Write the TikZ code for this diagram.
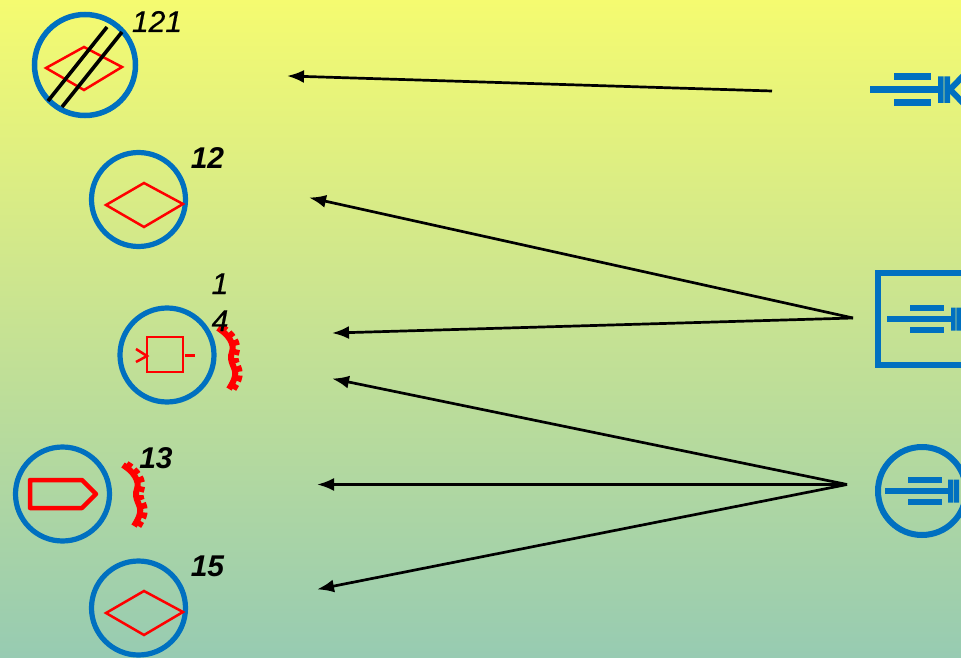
\documentclass[tikz,border=0pt]{standalone}
\usepackage{fontspec}
\setmainfont{Liberation Sans}
\newfontfamily\labfont{Liberation Sans}[ItalicFeatures={FakeBold=0.6}]
\usetikzlibrary{arrows.meta}
\definecolor{sblue}{HTML}{0070C0}
\definecolor{bgtop}{HTML}{F5FB70}
\definecolor{bgmid}{HTML}{D0E78C}
\definecolor{bgbot}{HTML}{97CBB2}
\tikzset{
  ring/.style={draw=sblue,line width=#1,circle,inner sep=0pt,fill=none},
  ring/.default=5.2pt,
  redline/.style={draw=red,line width=2.5pt,line join=miter},
  bluebar/.style={draw=sblue,line width=6.5pt},
  conn/.style={draw=black,line width=2.7pt,shorten >=-2pt,-{Latex[length=17pt,width=13pt]}},
  hatch/.style={draw=black,line width=3.6pt},
  lab/.style={inner sep=0pt,anchor=base,font=\fontsize{30}{30}\selectfont\labfont\itshape},
  labb/.style={inner sep=0pt,anchor=base,font=\fontsize{30}{30}\selectfont\itshape\bfseries},
  gearbody/.style={draw=red,line width=6pt},
  gearteeth/.style={draw=red,line width=9pt,dash pattern=on 5.5pt off 3.5pt}
}
\newcommand{\gearcurve}{(218,328) .. controls (228,334) and (235,344) .. (232,352) .. controls (228,362) and (237,368) .. (235,376) .. controls (234,381) and (232,384) .. (229,389)}
\begin{document}
\begin{tikzpicture}[x=1pt,y=-1pt]
\useasboundingbox (0,0) rectangle (961,658);
\path[top color=bgtop,bottom color=bgmid] (0,0) rectangle (961,260);
\path[top color=bgmid,bottom color=bgbot] (0,259.5) rectangle (961,658);
\begin{scope}
\clip (0,0) rectangle (961,658);
% circles
\node[ring=5.5pt,minimum size=101pt] (c121) at (85,65) {};
\node[ring,minimum size=94pt] (c12) at (138.5,199.5) {};
\node[ring,minimum size=94pt] (c14) at (167,355) {};
\node[ring,minimum size=94pt] (c13) at (62.5,494) {};
\node[ring,minimum size=94pt] (c15) at (138.5,608) {};
% symbol 121
\draw[redline] (46,68) -- (84,47) -- (122,67) -- (84,90) -- cycle;
\draw[hatch] (48,101) -- (107,27);
\draw[hatch] (62,107) -- (122,32);
% symbol 12
\draw[redline] (106,205) -- (144,183) -- (183,204) -- (144,227) -- cycle;
% symbol 14
\draw[redline] (147,337) rectangle (183,372);
\draw[redline] (136,349) -- (147,356) -- (136,362);
\draw[redline] (185,355.5) -- (195,355.5);
% symbol 13
\draw[draw=red,line width=4.5pt,line join=round] (30,480) -- (82,480) -- (96,494) -- (82,508) -- (30,508) -- cycle;
% symbol 15
\draw[redline] (106,613) -- (144,591) -- (183,612) -- (144,635) -- cycle;
% gears
\draw[gearbody] \gearcurve;
\draw[gearteeth,shift={(3,0)}] \gearcurve;
\begin{scope}[shift={(-95,137)}]
\draw[gearbody] \gearcurve;
\draw[gearteeth,shift={(3,0)}] \gearcurve;
\end{scope}
% labels
\node[lab] (t121) at (157,32) {121};
\node[labb] (t12) at (207.5,168) {12};
\node[lab] (t1) at (220,294) {1};
\node[lab] (t4) at (220,331) {4};
\node[labb] (t13) at (156,468) {13};
\node[labb] (t15) at (207.5,576) {15};
% right symbol, top
\draw[bluebar] (870,89.5) -- (940,89.5);
\draw[bluebar] (894,76.5) -- (931,76.5);
\draw[bluebar] (894,102.5) -- (931,102.5);
\fill[sblue] (938,76.5) rectangle (943.7,103) (944.3,76.5) rectangle (950,103);
\draw[draw=sblue,line width=6pt] (966,73) -- (950,89.5) -- (966,106);
% right symbol, box
\draw[draw=sblue,line width=6pt] (970,272.5) -- (877.5,272.5) -- (877.5,364.5) -- (970,364.5);
\draw[bluebar] (887,319) -- (952,319);
\draw[bluebar] (910,308) -- (944,308);
\draw[bluebar] (910,330) -- (944,330);
\fill[sblue] (951,307.5) rectangle (955.7,330.5) (956.3,307.5) rectangle (961,330.5);
% right symbol, circle
\node[ring=6pt,minimum size=88pt] (rc) at (922,491) {};
\draw[bluebar] (885,491) -- (950,491);
\draw[bluebar] (908,480) -- (942,480);
\draw[bluebar] (908,502) -- (942,502);
\fill[sblue] (948,479.5) rectangle (953.2,502.5) (953.8,479.5) rectangle (959,502.5);
% connectors
\coordinate (s1) at (772,91);
\coordinate (e1) at (289,76);
\coordinate (s2) at (853,318);
\coordinate (e2) at (311,198);
\coordinate (e3) at (334,333);
\coordinate (s3) at (847,484.5);
\coordinate (e4) at (334,379);
\coordinate (e5) at (319,484.5);
\coordinate (e6) at (319,589);
\draw[conn] (s1) -- (e1);
\draw[conn] (s2) -- (e2);
\draw[conn] (s2) -- (e3);
\draw[conn] (s3) -- (e4);
\draw[conn] (s3) -- (e5);
\draw[conn] (s3) -- (e6);
\end{scope}
\end{tikzpicture}
\end{document}
